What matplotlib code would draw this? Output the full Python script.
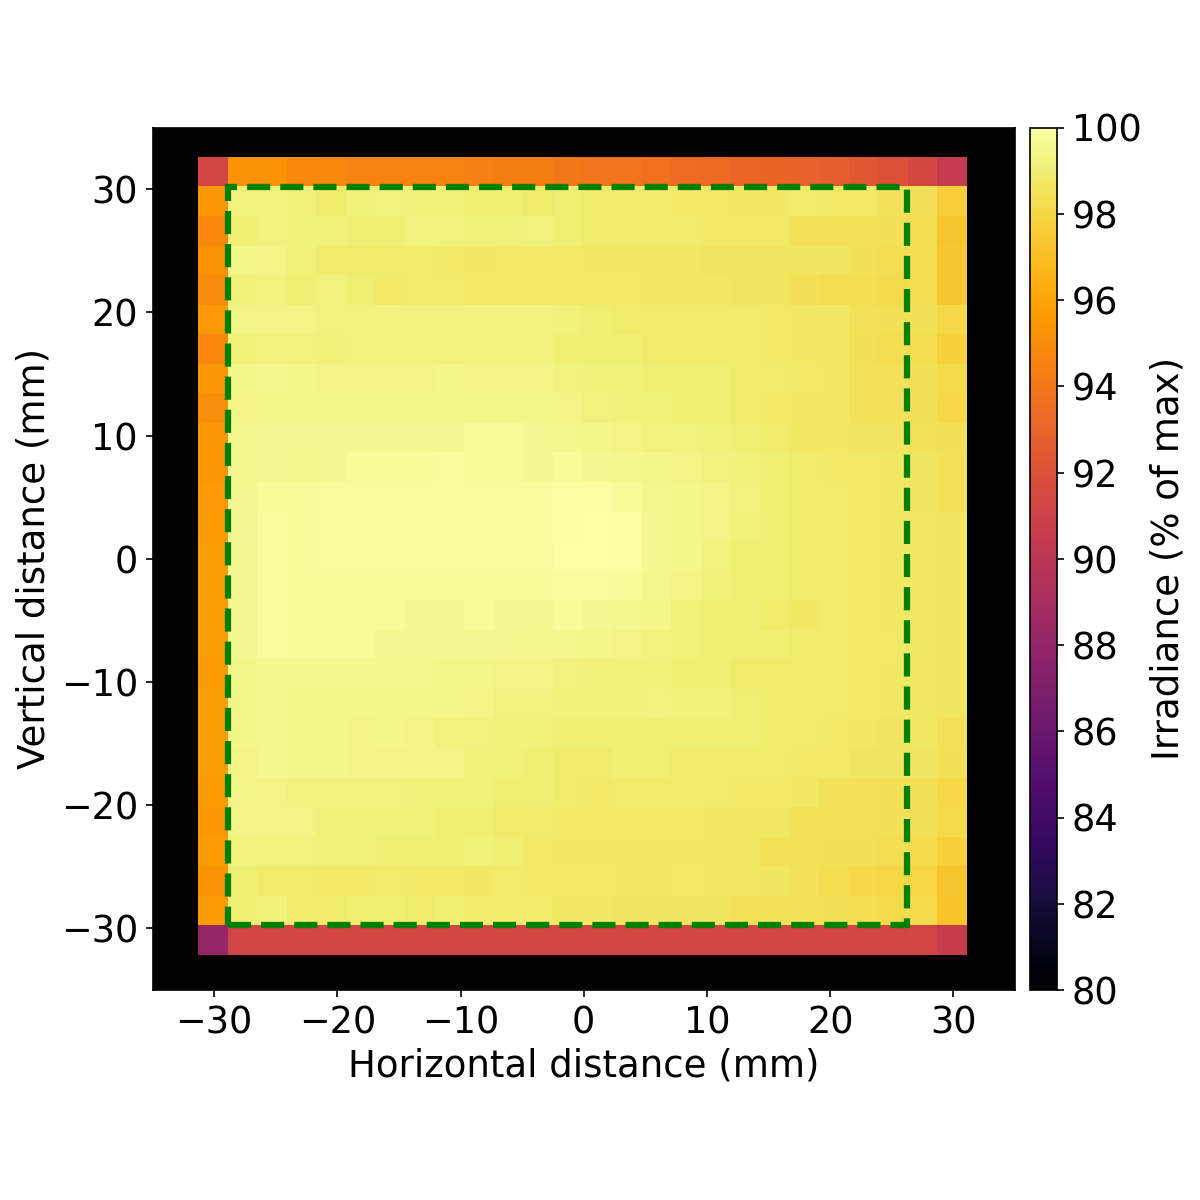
import matplotlib
matplotlib.use("Agg")
import matplotlib.pyplot as plt
from matplotlib.patches import Rectangle
import numpy as np

# irradiance (% of max), top row first
row_00 = [91.3, 95.2, 95.2, 94.8, 94.7, 94.6, 94.6, 94.6, 94.6, 94.4, 94.3, 94.3, 94.1, 93.9, 93.9, 93.7, 93.5, 93.4, 93.2, 93.1, 93.0, 92.8, 92.4, 92.0, 91.4, 90.4]
row_01 = [95.4, 99.2, 99.2, 99.1, 98.9, 99.1, 99.2, 99.1, 99.1, 99.0, 99.0, 98.9, 99.0, 98.9, 98.9, 98.9, 98.8, 98.8, 98.7, 98.7, 98.9, 98.8, 98.8, 98.5, 98.4, 97.7]
row_02 = [94.8, 99.0, 99.2, 99.1, 99.1, 99.0, 99.0, 99.2, 99.2, 99.1, 99.1, 99.2, 99.0, 98.9, 98.9, 98.9, 98.9, 98.8, 98.8, 98.8, 98.5, 98.5, 98.5, 98.4, 98.3, 97.3]
row_03 = [95.2, 99.4, 99.3, 99.1, 98.9, 98.9, 98.9, 98.9, 98.8, 98.7, 98.8, 98.8, 98.8, 98.7, 98.7, 98.7, 98.7, 98.6, 98.6, 98.6, 98.6, 98.6, 98.4, 98.3, 98.3, 97.4]
row_04 = [94.9, 99.1, 99.2, 99.0, 99.2, 99.0, 98.8, 98.9, 98.9, 98.8, 98.8, 98.8, 98.8, 98.8, 98.8, 98.7, 98.7, 98.7, 98.6, 98.6, 98.4, 98.3, 98.3, 98.2, 98.3, 97.4]
row_05 = [95.5, 99.3, 99.3, 99.3, 99.2, 99.2, 99.2, 99.2, 99.2, 99.2, 99.2, 99.2, 99.1, 99.0, 98.9, 98.9, 98.9, 98.9, 98.9, 98.8, 98.7, 98.7, 98.5, 98.4, 98.4, 98.1]
row_06 = [94.8, 99.1, 99.2, 99.2, 99.1, 99.2, 99.2, 99.2, 99.2, 99.2, 99.2, 99.2, 99.0, 99.0, 99.0, 98.9, 98.9, 98.9, 98.9, 98.8, 98.7, 98.7, 98.4, 98.3, 98.3, 97.8]
row_07 = [95.4, 99.4, 99.5, 99.4, 99.3, 99.3, 99.3, 99.3, 99.4, 99.3, 99.3, 99.3, 99.2, 99.1, 99.1, 99.0, 99.0, 99.0, 98.9, 98.9, 98.8, 98.7, 98.5, 98.5, 98.4, 98.2]
row_08 = [95.0, 99.3, 99.4, 99.4, 99.4, 99.4, 99.4, 99.4, 99.4, 99.4, 99.4, 99.4, 99.3, 99.2, 99.1, 99.1, 99.0, 99.0, 98.9, 98.8, 98.7, 98.7, 98.5, 98.5, 98.4, 98.1]
row_09 = [95.4, 99.5, 99.6, 99.6, 99.6, 99.6, 99.6, 99.6, 99.6, 99.7, 99.7, 99.6, 99.5, 99.4, 99.3, 99.2, 99.2, 99.1, 99.0, 98.9, 98.7, 98.7, 98.6, 98.6, 98.5, 98.4]
row_10 = [95.4, 99.5, 99.6, 99.5, 99.6, 99.7, 99.7, 99.7, 99.8, 99.7, 99.7, 99.6, 99.7, 99.6, 99.5, 99.4, 99.3, 99.2, 99.1, 99.0, 98.9, 98.8, 98.8, 98.7, 98.6, 98.5]
row_11 = [95.5, 99.6, 99.7, 99.7, 99.8, 99.8, 99.8, 99.8, 99.8, 99.8, 99.8, 99.8, 99.9, 99.9, 99.7, 99.5, 99.4, 99.3, 99.2, 99.0, 98.9, 98.9, 98.8, 98.7, 98.6, 98.5]
row_12 = [95.6, 99.6, 99.8, 99.7, 99.8, 99.8, 99.8, 99.8, 99.8, 99.8, 99.8, 99.8, 99.9, 100.0, 99.9, 99.6, 99.4, 99.3, 99.1, 99.0, 98.9, 98.9, 98.8, 98.7, 98.7, 98.6]
row_13 = [95.7, 99.6, 99.8, 99.7, 99.8, 99.8, 99.8, 99.8, 99.8, 99.8, 99.8, 99.8, 100.0, 100.0, 99.9, 99.6, 99.4, 99.2, 99.0, 99.0, 98.9, 98.9, 98.8, 98.7, 98.7, 98.6]
row_14 = [95.7, 99.6, 99.8, 99.7, 99.7, 99.7, 99.7, 99.7, 99.7, 99.7, 99.7, 99.7, 99.8, 99.8, 99.7, 99.5, 99.3, 99.1, 99.0, 99.0, 98.9, 98.9, 98.8, 98.7, 98.7, 98.6]
row_15 = [95.7, 99.6, 99.8, 99.7, 99.7, 99.7, 99.7, 99.6, 99.6, 99.7, 99.6, 99.6, 99.7, 99.6, 99.5, 99.4, 99.1, 99.0, 99.0, 98.9, 98.7, 98.9, 98.8, 98.7, 98.7, 98.6]
row_16 = [95.7, 99.6, 99.8, 99.7, 99.7, 99.7, 99.6, 99.6, 99.6, 99.6, 99.6, 99.5, 99.5, 99.4, 99.3, 99.2, 99.1, 99.0, 99.0, 99.0, 98.9, 98.9, 98.8, 98.8, 98.7, 98.6]
row_17 = [95.6, 99.4, 99.5, 99.5, 99.5, 99.5, 99.5, 99.5, 99.4, 99.4, 99.3, 99.3, 99.2, 99.1, 99.1, 99.1, 99.0, 99.0, 98.9, 98.9, 98.9, 98.9, 98.8, 98.7, 98.7, 98.6]
row_18 = [95.7, 99.4, 99.5, 99.4, 99.4, 99.4, 99.4, 99.4, 99.4, 99.3, 99.2, 99.2, 99.1, 99.1, 99.1, 99.2, 99.1, 99.1, 99.0, 98.9, 98.9, 98.9, 98.8, 98.7, 98.7, 98.6]
row_19 = [95.7, 99.4, 99.6, 99.4, 99.4, 99.3, 99.4, 99.3, 99.2, 99.2, 99.1, 99.1, 99.0, 99.0, 99.0, 99.0, 99.0, 99.0, 99.0, 98.9, 98.9, 98.8, 98.7, 98.6, 98.7, 98.5]
row_20 = [95.7, 99.3, 99.6, 99.4, 99.4, 99.3, 99.3, 99.3, 99.3, 99.1, 99.1, 99.0, 98.9, 98.9, 99.0, 99.0, 98.9, 98.9, 98.9, 98.9, 98.8, 98.8, 98.6, 98.6, 98.6, 98.4]
row_21 = [95.6, 99.3, 99.3, 99.2, 99.2, 99.2, 99.2, 99.1, 99.1, 99.1, 99.0, 99.0, 98.9, 98.8, 98.9, 98.9, 98.9, 98.9, 98.8, 98.8, 98.7, 98.5, 98.5, 98.4, 98.4, 98.1]
row_22 = [95.4, 99.3, 99.3, 99.3, 99.1, 99.1, 99.1, 99.1, 99.0, 99.0, 98.9, 98.9, 98.8, 98.8, 98.8, 98.8, 98.8, 98.7, 98.7, 98.7, 98.5, 98.5, 98.5, 98.4, 98.4, 98.2]
row_23 = [95.6, 99.2, 99.2, 99.2, 99.1, 99.1, 99.0, 99.0, 99.0, 99.1, 99.0, 98.8, 98.7, 98.7, 98.7, 98.7, 98.7, 98.7, 98.7, 98.5, 98.5, 98.4, 98.4, 98.3, 98.2, 97.8]
row_24 = [95.3, 99.0, 98.9, 98.9, 98.8, 98.8, 98.9, 98.8, 98.8, 98.7, 98.9, 98.8, 98.8, 98.8, 98.7, 98.7, 98.8, 98.7, 98.7, 98.6, 98.5, 98.3, 98.1, 98.0, 98.0, 97.3]
row_25 = [95.6, 99.0, 99.1, 98.9, 98.9, 99.0, 99.0, 98.9, 99.0, 98.9, 98.9, 98.9, 98.7, 98.7, 98.6, 98.6, 98.6, 98.6, 98.5, 98.5, 98.5, 98.4, 98.3, 98.2, 98.2, 97.2]
row_26 = [88.2, 91.2, 91.3, 91.3, 91.3, 91.3, 91.3, 91.3, 91.3, 91.3, 91.3, 91.3, 91.3, 91.3, 91.3, 91.3, 91.3, 91.3, 91.3, 91.3, 91.2, 91.2, 91.2, 91.2, 91.3, 90.6]

rows = [row_00, row_01, row_02, row_03, row_04, row_05, row_06, row_07, row_08,
        row_09, row_10, row_11, row_12, row_13, row_14, row_15, row_16, row_17,
        row_18, row_19, row_20, row_21, row_22, row_23, row_24, row_25, row_26]
cbar_ticks = [80, 82, 84, 86, 88, 90, 92, 94, 96, 98, 100]
axis_ticks = [-30, -20, -10, 0, 10, 20, 30]

fig = plt.figure(figsize=(8, 8), dpi=150)
ax = fig.add_axes([152.5 / 1200, 210 / 1200, 862.5 / 1200, 862.5 / 1200])
cax = fig.add_axes([1030 / 1200, 210 / 1200, 27 / 1200, 862.5 / 1200])

ax.set_facecolor("black")
im = ax.imshow(np.array(rows), cmap="inferno", vmin=80, vmax=100,
               extent=(-31.33, 31.03, -32.17, 32.54),
               interpolation="nearest", aspect="auto")
ax.add_patch(Rectangle((-28.87, -29.75), 55.14, 59.9, fill=False,
                       edgecolor="green", linewidth=3, linestyle="--"))
ax.set_xlim(-35, 35)
ax.set_ylim(-35, 35)
ax.set_xticks(axis_ticks)
ax.set_yticks(axis_ticks)
ax.tick_params(labelsize=17.6)
ax.set_xlabel("Horizontal distance (mm)", fontsize=17.8, labelpad=3)
ax.set_ylabel("Vertical distance (mm)", fontsize=17.8)

cb = fig.colorbar(im, cax=cax, ticks=cbar_ticks)
cb.ax.tick_params(labelsize=17.6)
cb.set_label("Irradiance (% of max)", fontsize=17.8)

fig.savefig("out.png", dpi=150)
plt.close(fig)
